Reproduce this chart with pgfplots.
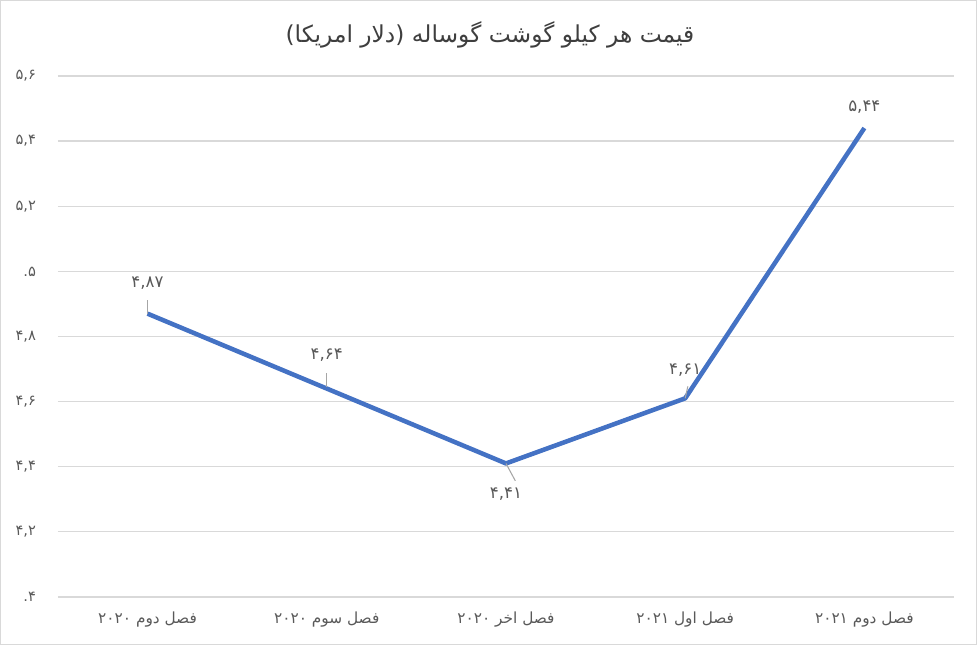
\documentclass[border=0pt]{standalone}
\usepackage{fontspec}
\usepackage{pgfplots}
\usepackage{pgfplotstable}
\pgfplotsset{compat=1.18}
\usetikzlibrary{calc}
\TeXXeTstate=1
\newfontfamily\fa[Script=Arabic]{DejaVu Sans}
\definecolor{linecol}{HTML}{4472C4}
\definecolor{gridcol}{HTML}{D9D9D9}
\definecolor{txtcol}{HTML}{595959}

% x, price, label offset (pt), label text
\pgfplotstableread{
x y dy lab
0 4.87 23 ۴,۸۷
1 4.64 25 ۴,۶۴
2 4.41 -23 ۴,۴۱
3 4.61 21 ۴,۶۱
4 5.44 16 ۵,۴۴
}\pricedata

\begin{document}
\begin{tikzpicture}
\begin{axis}[
    scale only axis,
    width=672pt, height=390.75pt,
    xmin=-0.5, xmax=4.5,
    ymin=4, ymax=5.6,
    ytick={4,4.2,...,5.6},
    yticklabels={{۴.},{۴,۲},{۴,۴},{۴,۶},{۴,۸},{۵.},{۵,۲},{۵,۴},{۵,۶}},
    xtick={0,1,2,3,4},
    xticklabels={
      {\beginR فصل دوم ۲۰۲۰\endR},
      {\beginR فصل سوم ۲۰۲۰\endR},
      {\beginR فصل اخر ۲۰۲۰\endR},
      {\beginR فصل اول ۲۰۲۱\endR},
      {\beginR فصل دوم ۲۰۲۱\endR}},
    ymajorgrids,
    grid style={gridcol, line width=0.9pt},
    axis line style={draw=none},
    major tick length=0pt,
    tick label style={text=txtcol},
    xticklabel style={font=\fa\fontsize{11.5}{12}\selectfont, yshift=-8pt},
    yticklabel style={font=\fa\fontsize{11}{12}\selectfont, xshift=-13pt},
    clip=false,
]
    \addplot[linecol, line width=3.4pt, line join=round,
        nodes near coords,
        point meta=explicit symbolic,
        visualization depends on={\thisrow{dy}\as\dy},
        every node near coord/.style={anchor=center, yshift=\dy pt,
            font=\fa\fontsize{12.5}{13}\selectfont, text=txtcol},
    ] table[x=x, y=y, meta=lab] {\pricedata};

    % leader lines to the data labels
    \draw[gray!70, line width=0.8pt] (axis cs:0,4.87) -- ++(0pt,10pt);
    \draw[gray!70, line width=0.8pt] (axis cs:1,4.64) ++(0pt,1pt) -- ++(0pt,11pt);
    \draw[gray!70, line width=0.8pt] (axis cs:2,4.41) -- ++(7pt,-13pt);
    \draw[gray!70, line width=0.8pt] (axis cs:3,4.61) -- ++(2pt,9pt);

    % title
    \node[font=\fa\fontsize{17.5}{20}\selectfont, text=txtcol!70!black]
        at (rel axis cs:0,1) [xshift=324pt, yshift=30.75pt]
        {\beginR قیمت هر کیلو گوشت گوساله (دلار امریکا)\endR};

    % chart border
    \draw[gridcol, line width=0.75pt]
        ($(rel axis cs:0,0)+(-43.1pt,-35.6pt)$) rectangle
        ($(rel axis cs:1,1)+(16.9pt,56.6pt)$);
\end{axis}
\end{tikzpicture}
\end{document}
